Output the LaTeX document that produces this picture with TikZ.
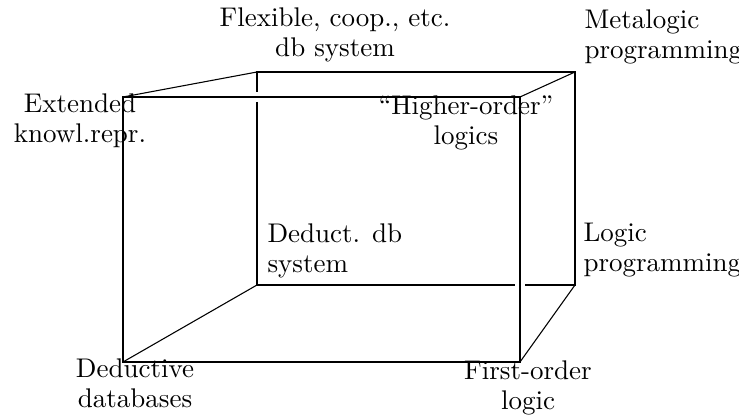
\documentclass[tikz,border=0pt]{standalone}
\usetikzlibrary{calc}
\begin{document}
\begin{tikzpicture}[x=0.3704pt,y=-0.3704pt,
  edge/.style={line width=0.4pt},
  lbl/.style={inner sep=0pt, font=\fontsize{10}{11.2}\selectfont},
  lblc/.style={lbl, align=center, anchor=base},
  lbll/.style={lbl, align=left, anchor=base west}]
\useasboundingbox (0,0) rectangle (739,417);

% front face corners
\coordinate (fTL) at (123,97);
\coordinate (fTR) at (520,97);
\coordinate (fBR) at (520,362);
\coordinate (fBL) at (123,362);
% back face corners
\coordinate (bTL) at (257,72);
\coordinate (bTR) at (575,72);
\coordinate (bBR) at (575,285);
\coordinate (bBL) at (257,285);

% break points where hidden edges pass behind the front face
\coordinate (gA1) at ($(bTL |- fTL)+(0,-5)$);
\coordinate (gA2) at ($(bTL |- fTL)+(0,5)$);
\coordinate (gB1) at ($(fTR |- bBL)+(-5,0)$);
\coordinate (gB2) at ($(fTR |- bBL)+(5,0)$);

% back face, broken at the crossings
\draw[edge] (gA2) -- (bBL) -- (gB1);
\draw[edge] (gB2) -- (bBR) -- (bTR) -- (bTL) -- (gA1);
% front face
\draw[edge] (fTL) -- (fTR) -- (fBR) -- (fBL) -- cycle;
% receding edges
\draw[edge] (fTL) -- (bTL);
\draw[edge] (fTR) -- (bTR);
\draw[edge] (fBR) -- (bBR);
\draw[edge] (fBL) -- (bBL);

% corner labels (anchored at the baseline of their last line)
\node[lblc] (flex) at (335,57) {Flexible, coop., etc.\\db system};
\node[lbll] (meta) at (584,59) {Metalogic\\programming};
\node[lblc] (ext)  at (80,143) {Extended\\knowl.repr.};
\node[lblc] (hol)  at (466,145) {``Higher-order''\\logics};
\node[lbll] (ddb)  at (267,273) {Deduct. db\\system};
\node[lbll] (lp)   at (583,272) {Logic\\programming};
\node[lblc] (dd)   at (135,408) {Deductive\\databases};
\node[lblc] (fol)  at (528,410) {First-order\\logic};
\end{tikzpicture}
\end{document}
